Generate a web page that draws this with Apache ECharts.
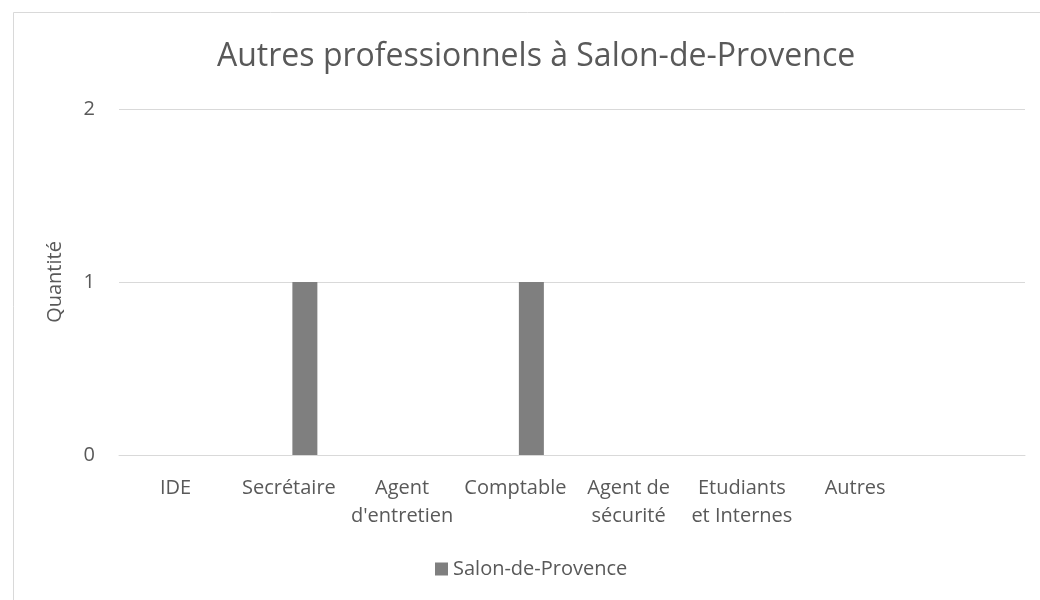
<!DOCTYPE html>
<html>
<head>
<meta charset="utf-8">
<script src="https://cdn.jsdelivr.net/npm/echarts@6/dist/echarts.min.js"></script>
<style>
html,body{margin:0;padding:0;background:#fff;}
#chart{width:1040px;height:600px;}
</style>
</head>
<body>
<div id="chart"></div>
<script>
// Data
const titleText = 'Autres professionnels à Salon-de-Provence';
const yAxisName = 'Quantité';
const categories = ['IDE', 'Secrétaire', 'Agent\nd\'entretien', 'Comptable', 'Agent de\nsécurité', 'Etudiants\net Internes', 'Autres', ''];
const seriesName = 'Salon-de-Provence';
const salonValues = [0, 1, 0, 1, 0, 0, 0, null];
const placeholderValues = [null, null, null, null, null, null, null, null];
const yTicks = [0, 1, 2];

const FONT = '"Open Sans", "Noto Sans", sans-serif';
const TXT = '#595959';

const chart = echarts.init(document.getElementById('chart'), null, {renderer: 'canvas'});
chart.setOption({
  backgroundColor: '#ffffff',
  animation: false,
  graphic: [{
    type: 'rect', left: 11, top: 10,
    shape: {width: 1100, height: 700},
    style: {fill: 'none', stroke: '#d9d9d9', lineWidth: 1},
    silent: true, z: -1
  }],
  title: {
    text: titleText, left: 212, top: 36,
    textStyle: {fontFamily: FONT, fontSize: 32, fontWeight: 'normal', color: TXT}
  },
  legend: {
    data: [seriesName], bottom: 16, left: 430,
    itemWidth: 13, itemHeight: 13, itemGap: 10,
    icon: 'rect',
    textStyle: {fontFamily: FONT, fontSize: 20, color: TXT, padding: [0, 0, 0, 0]}
  },
  grid: {left: 119, right: 15, top: 109, bottom: 145, containLabel: false},
  xAxis: {
    type: 'category', data: categories,
    axisLine: {lineStyle: {color: '#d9d9d9', width: 1}},
    axisTick: {show: false},
    axisLabel: {fontFamily: FONT, fontSize: 20, color: TXT, margin: 19, lineHeight: 28, interval: 0}
  },
  yAxis: {
    type: 'value', min: 0, max: 2, interval: 1,
    name: yAxisName, nameLocation: 'middle', nameGap: 54,
    nameTextStyle: {fontFamily: FONT, fontSize: 20, color: TXT},
    axisLine: {show: false}, axisTick: {show: false},
    axisLabel: {fontFamily: FONT, fontSize: 20, color: TXT, margin: 24},
    splitLine: {lineStyle: {color: '#d9d9d9', width: 1}}
  },
  series: [
    {name: 'placeholder', type: 'bar', data: placeholderValues, barWidth: 25, barGap: '28%', itemStyle: {color: 'transparent'}, silent: true},
    {name: seriesName, type: 'bar', data: salonValues, barWidth: 25, barGap: '28%', itemStyle: {color: '#7f7f7f'}}
  ]
});
</script>
</body>
</html>
